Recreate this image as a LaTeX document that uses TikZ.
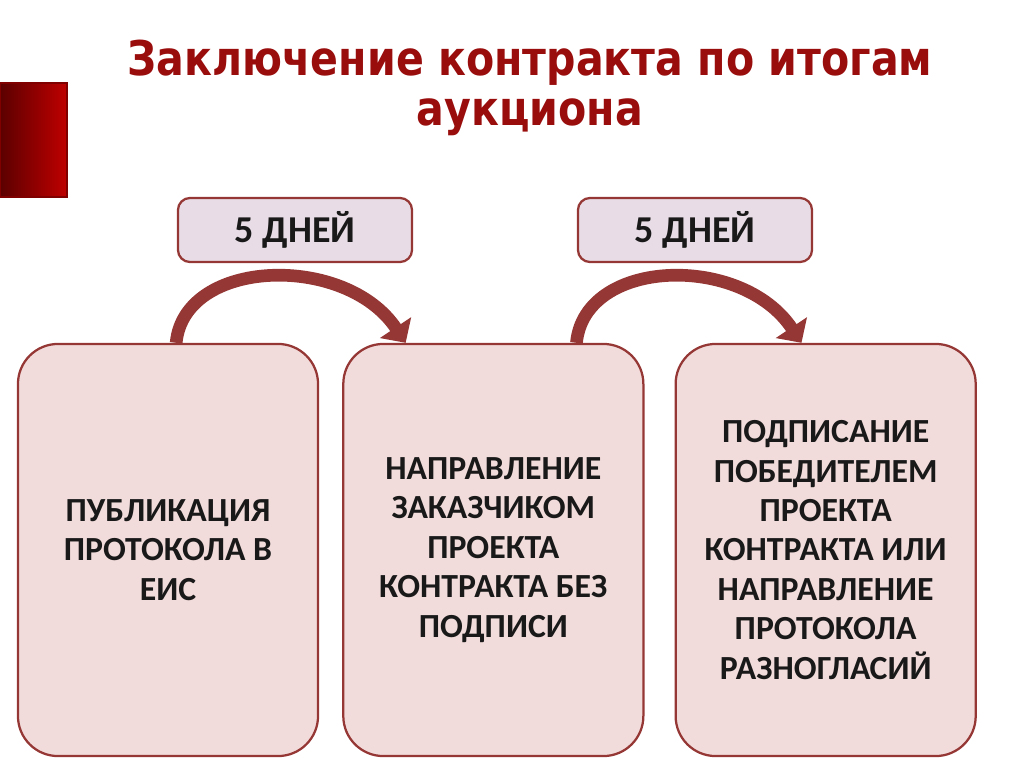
\documentclass[tikz,border=0pt]{standalone}
\usepackage{fontspec}
\usepackage{graphicx}
\setmainfont{Carlito}
\newfontfamily\titlefont{DejaVu Sans}
\usepackage{tikz}
\usetikzlibrary{arrows.meta,positioning,calc}

\definecolor{darkred}{HTML}{953735}
\definecolor{titlered}{HTML}{990D0D}
\definecolor{boxpink}{HTML}{F2DCDB}
\definecolor{daylilac}{HTML}{E8DDE6}

\newcommand{\narrow}[1]{\scalebox{0.86}[1]{#1}}

\begin{document}
\begin{tikzpicture}[x=0.025cm,y=-0.025cm,node distance=0.575cm,
                    step box/.style={rectangle,rounded corners=1cm,draw=darkred,line width=1.6pt,
                      fill=boxpink,minimum width=7.5cm,minimum height=10.3cm,align=center,
                      font=\fontsize{24}{28}\selectfont\bfseries,text=black!90},
                    days box/.style={rectangle,rounded corners=0.3cm,draw=darkred,line width=1.6pt,
                      fill=daylilac,minimum width=5.85cm,minimum height=1.6cm,
                      font=\fontsize{27}{32}\selectfont\bfseries,text=black!90},
                    bow/.style={draw=darkred,line width=9pt,
                      -{Triangle[width=26pt,length=13pt]}}]
  \useasboundingbox (0,0) rectangle (1024,767);

  % red tab on the left
  \shade[left color=black!40!red!60!black,right color=red!75!black,draw=red!50!black,line width=1pt]
    (0,83) rectangle (67,197);

  \node[font=\titlefont\bfseries\fontsize{34}{35.5}\selectfont,text=titlered,align=center] (title) at (530,88)
    {\narrow{Заключение контракта по итогам}\\\narrow{аукциона}};

  \node[step box] (1) at (168,550) {ПУБЛИКАЦИЯ\\ПРОТОКОЛА В\\ЕИС};
  \node[step box] (2) [right=of 1] {НАПРАВЛЕНИЕ\\ЗАКАЗЧИКОМ\\ПРОЕКТА\\КОНТРАКТА БЕЗ\\ПОДПИСИ};
  \node[step box] (3) [right=0.75cm of 2] {ПОДПИСАНИЕ\\ПОБЕДИТЕЛЕМ\\ПРОЕКТА\\КОНТРАКТА ИЛИ\\НАПРАВЛЕНИЕ\\ПРОТОКОЛА\\РАЗНОГЛАСИЙ};

  \node[days box] (d1) at (295,230) {5 ДНЕЙ};
  \node[days box] (d2) at (695,230) {5 ДНЕЙ};

  \draw[bow] ($(1.north west)!0.527!(1.north east)$)
    .. controls +(8,-85) and +(-60,-90) .. ($(2.north west)!0.21!(2.north east)$);
  \draw[bow] ($(2.north west)!0.775!(2.north east)$)
    .. controls +(8,-85) and +(-60,-90) .. ($(3.north west)!0.42!(3.north east)$);
\end{tikzpicture}
\end{document}
